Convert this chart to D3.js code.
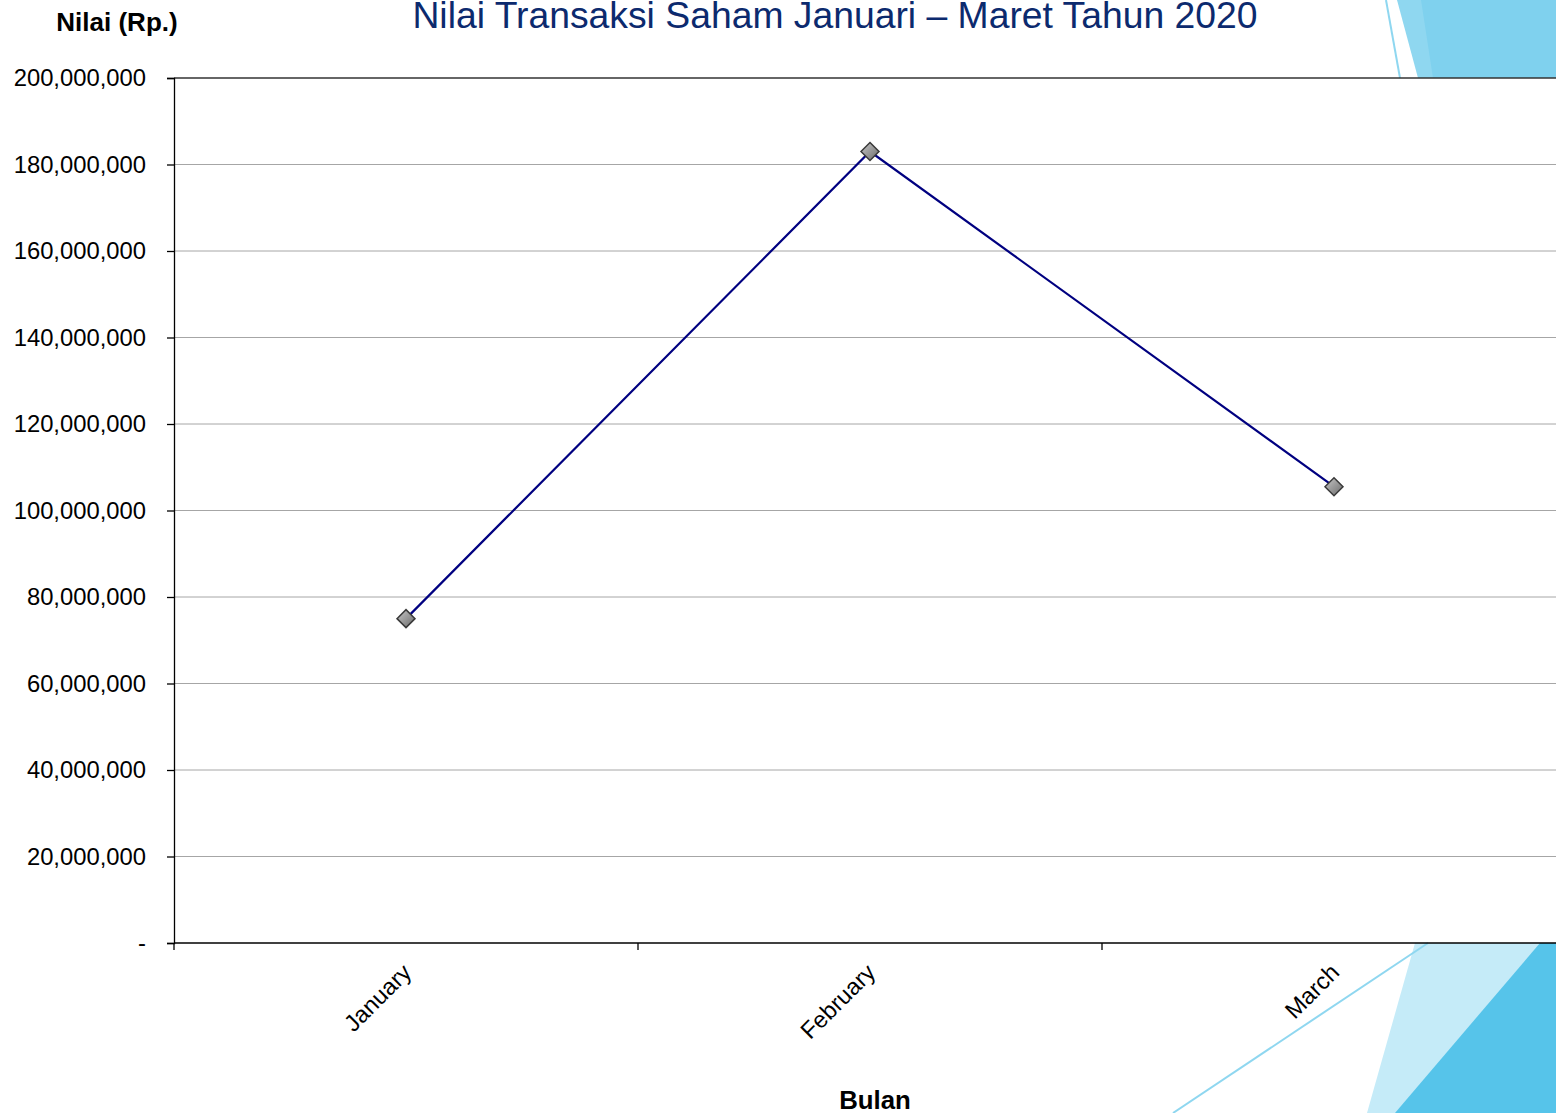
<!DOCTYPE html>
<html>
<head>
<meta charset="utf-8">
<script src="https://cdn.jsdelivr.net/npm/d3@7"></script>
<style>
  body { margin: 0; background: #fff; overflow: hidden; }
  text { font-family: "Liberation Sans", Arial, sans-serif; }
</style>
</head>
<body>
<div id="canvas"></div>
<script>
"use strict"

/* chart data */
let months = ["January", "February", "March"];
let transaksi = [75000000, 183000000, 105500000];
let yTicks = [0, 20000000, 40000000, 60000000, 80000000, 100000000,
              120000000, 140000000, 160000000, 180000000, 200000000];

let drawing = d3.select("#canvas")
    .append("svg")
    .attr("width", 1556)
    .attr("height", 1113);

/* slide decorations (top right and bottom right) */
drawing.append("polygon")
    .attr("points", "1397,0 1556,0 1556,78 1418,78")
    .attr("fill", "#8fd7f0");
drawing.append("polygon")
    .attr("points", "1421,0 1556,0 1556,78 1433,78")
    .attr("fill", "#7fd1ee");
drawing.append("line")
    .attr("x1", 1386).attr("y1", 0)
    .attr("x2", 1400).attr("y2", 78)
    .attr("stroke", "#8fd7f0")
    .attr("stroke-width", 2);

drawing.append("polygon")
    .attr("points", "1415,943 1556,943 1556,1113 1367,1113")
    .attr("fill", "#c5ebf8");
drawing.append("polygon")
    .attr("points", "1540,943 1556,943 1556,1113 1395,1113")
    .attr("fill", "#56c4ea");
drawing.append("line")
    .attr("x1", 1173).attr("y1", 1113)
    .attr("x2", 1428).attr("y2", 943)
    .attr("stroke", "#8fd7f0")
    .attr("stroke-width", 2);

/* scales */
let plotLeft = 174, plotRight = 1566, plotTop = 78, plotBottom = 943;

let x = d3.scaleBand()
    .domain(months)
    .range([plotLeft, plotRight]);

let y = d3.scaleLinear()
    .domain([0, 200000000])
    .range([plotBottom, plotTop]);

let fmt = d => d === 0 ? "-" : d3.format(",")(d);

/* gridlines */
drawing.append("g")
    .selectAll("line")
    .data(yTicks.slice(1, -1))
    .join("line")
    .attr("x1", plotLeft)
    .attr("x2", 1556)
    .attr("y1", d => y(d))
    .attr("y2", d => y(d))
    .attr("stroke", "#a6a6a6")
    .attr("stroke-width", 1);

/* top border of plot area */
drawing.append("line")
    .attr("x1", plotLeft).attr("x2", 1556)
    .attr("y1", plotTop).attr("y2", plotTop)
    .attr("stroke", "#333")
    .attr("stroke-width", 1.3);

/* y axis */
let yAxis = drawing.append("g")
    .attr("transform", "translate(" + plotLeft + ",0)")
    .call(d3.axisLeft(y).tickValues(yTicks).tickFormat(fmt).tickSize(7).tickPadding(21));
yAxis.select(".domain").attr("stroke", "#000").attr("stroke-width", 1.3);
yAxis.selectAll(".tick line").attr("stroke", "#000").attr("stroke-width", 1.3);
yAxis.selectAll("text")
    .attr("font-size", 23.8)
    .attr("fill", "#000")
    .attr("font-family", "Liberation Sans, Arial, sans-serif");

/* x axis */
let xAxis = drawing.append("g")
    .attr("transform", "translate(0," + plotBottom + ")");
xAxis.append("line")
    .attr("x1", plotLeft).attr("x2", 1556)
    .attr("y1", 0).attr("y2", 0)
    .attr("stroke", "#000")
    .attr("stroke-width", 1.3);
xAxis.selectAll("line.tk")
    .data(months)
    .join("line")
    .attr("class", "tk")
    .attr("x1", d => x(d)).attr("x2", d => x(d))
    .attr("y1", 0).attr("y2", 7)
    .attr("stroke", "#000")
    .attr("stroke-width", 1.3);
xAxis.selectAll("text")
    .data(months)
    .join("text")
    .attr("transform", d => "translate(" + (x(d) + x.bandwidth() / 2 + 1) + ",25) rotate(-45)")
    .attr("text-anchor", "end")
    .attr("dy", "0.35em")
    .attr("font-size", 23.5)
    .attr("fill", "#000")
    .text(d => d);

/* data line */
let pts = months.map((m, i) => [x(m) + x.bandwidth() / 2, y(transaksi[i])]);

drawing.append("path")
    .datum(pts)
    .attr("d", d3.line())
    .attr("fill", "none")
    .attr("stroke", "#000080")
    .attr("stroke-width", 2.2);

/* diamond markers */
let grad = drawing.append("defs")
    .append("linearGradient")
    .attr("id", "markerGrad")
    .attr("x1", "0").attr("y1", "0")
    .attr("x2", "1").attr("y2", "1");
grad.append("stop").attr("offset", "0%").attr("stop-color", "#c8c8c8");
grad.append("stop").attr("offset", "100%").attr("stop-color", "#6a6a6a");

drawing.append("g")
    .selectAll("path")
    .data(pts)
    .join("path")
    .attr("transform", d => "translate(" + d[0] + "," + d[1] + ")")
    .attr("d", "M0,-9 L9,0 L0,9 L-9,0 Z")
    .attr("fill", "url(#markerGrad)")
    .attr("stroke", "#3a3a3a")
    .attr("stroke-width", 1.5);

/* titles */
drawing.append("text")
    .attr("x", 835)
    .attr("y", 28)
    .attr("text-anchor", "middle")
    .attr("font-size", 37.3)
    .attr("fill", "#0c2a6e")
    .text("Nilai Transaksi Saham Januari \u2013 Maret Tahun 2020");

drawing.append("text")
    .attr("x", 117)
    .attr("y", 31)
    .attr("text-anchor", "middle")
    .attr("font-size", 26)
    .attr("font-weight", "bold")
    .attr("fill", "#000")
    .text("Nilai (Rp.)");

drawing.append("text")
    .attr("x", 875)
    .attr("y", 1109)
    .attr("text-anchor", "middle")
    .attr("font-size", 25.8)
    .attr("font-weight", "bold")
    .attr("fill", "#000")
    .text("Bulan");
</script>
</body>
</html>
